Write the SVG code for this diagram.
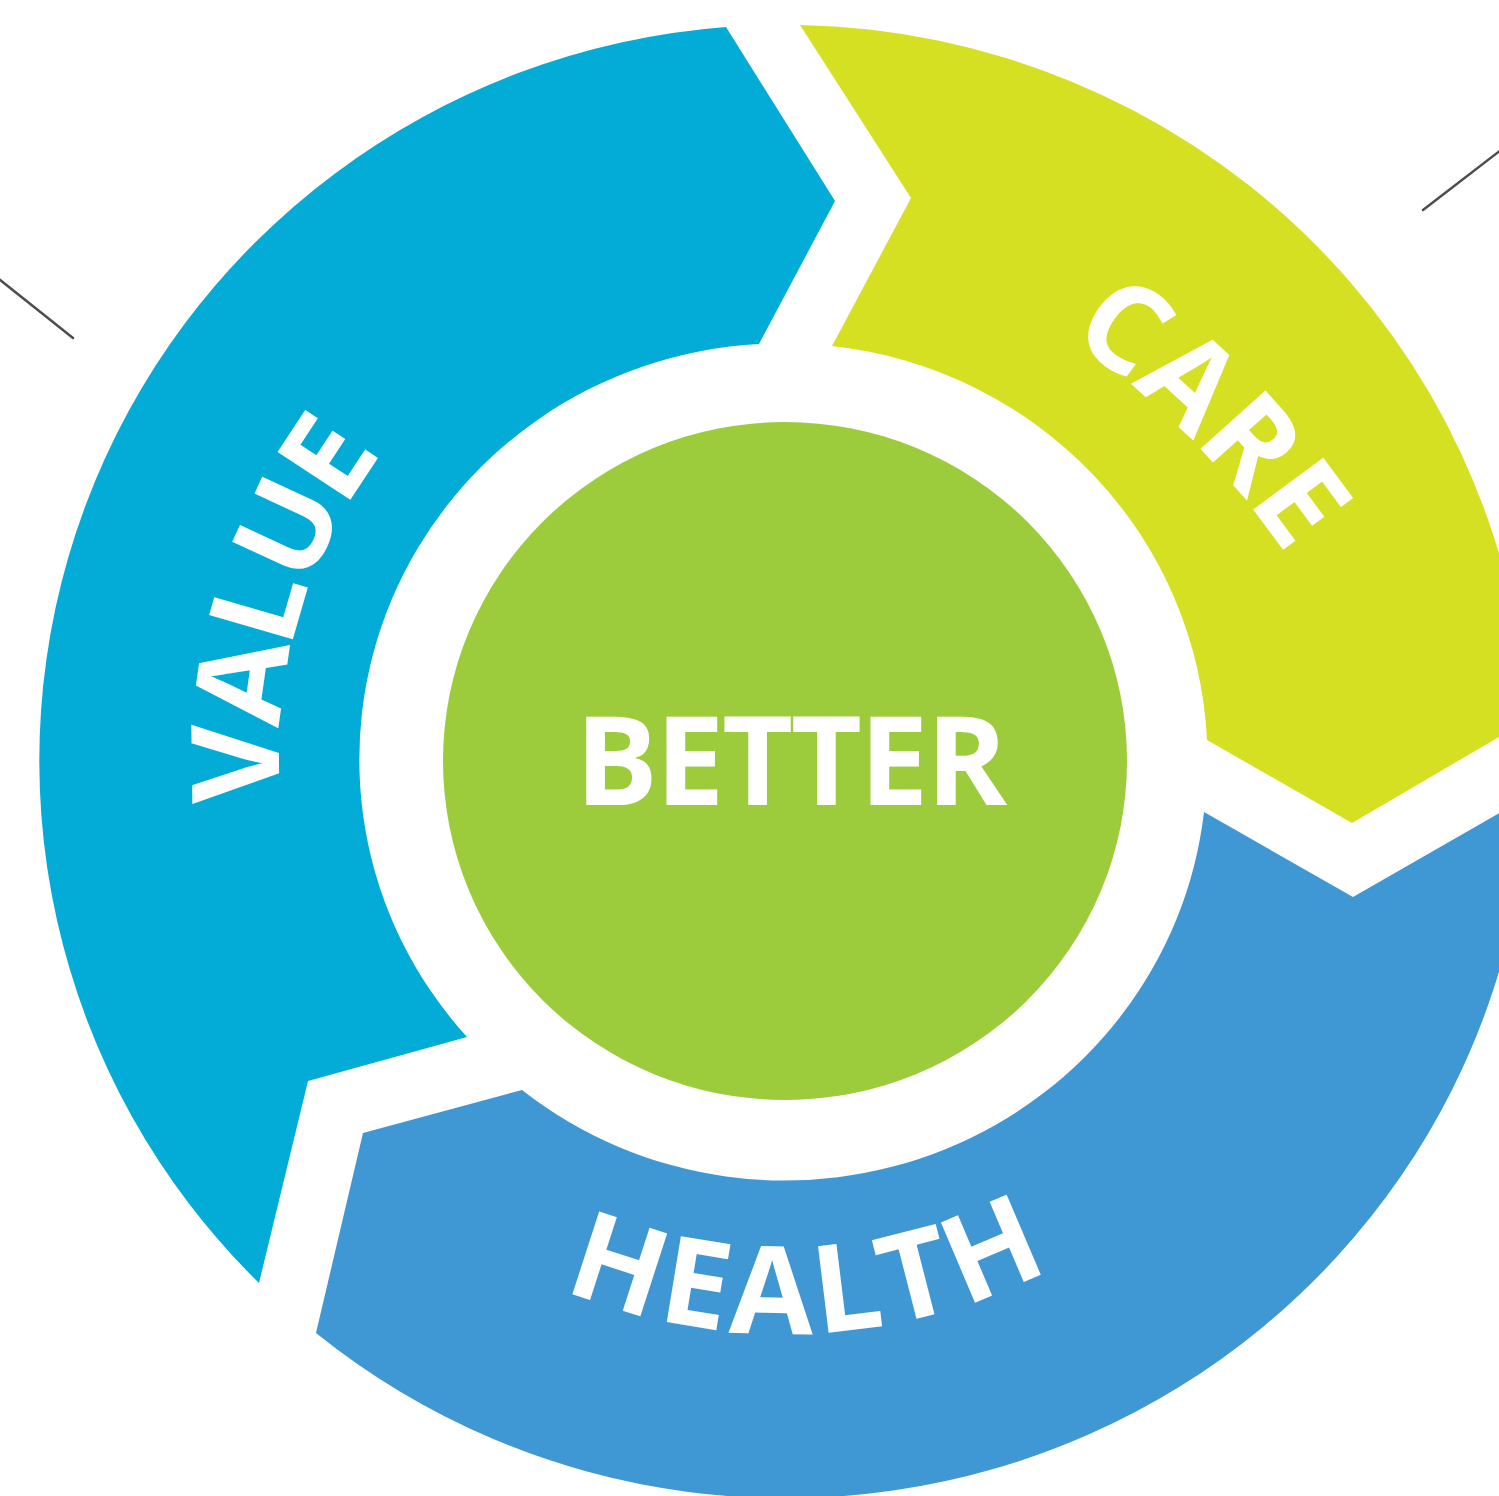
<svg xmlns="http://www.w3.org/2000/svg" xmlns:xlink="http://www.w3.org/1999/xlink" width="1499" height="1496" viewBox="0 0 1499 1496">
<style>
.lbl{font-family:"Open Sans","Liberation Sans",sans-serif;font-weight:700;fill:#ffffff;}
.conn{stroke:#4d4d4d;stroke-width:2.5;fill:none;stroke-linecap:round;}
</style>
<defs>
<path id="pValue" d="M343.3,1004.8 A502,502 0 0 1 540.2,318.3"/>
<path id="pCare" d="M825.9,230.0 A800,800 0 0 1 1396.9,797.2"/>
<path id="pHealth" d="M398.4,1183.9 A574,574 0 0 0 1208.7,1147.2"/>
</defs>
<rect width="1499" height="1496" fill="#ffffff"/>
<g id="connectors">
<line class="conn" x1="-10" y1="272" x2="73" y2="338"/>
<line class="conn" x1="1423" y1="210" x2="1510" y2="143"/>
</g>
<g id="value">
<path fill="#02acd6" d="M726,27 L835,201 L759,344 A422,416 0 0 0 467,1037 L308,1081 L259,1283 A744,736 0 0 1 726,27 Z"/>
<text class="lbl" font-size="122" letter-spacing="-5"><textPath xlink:href="#pValue" href="#pValue" startOffset="50%" text-anchor="middle">VALUE</textPath></text>
</g>
<g id="care">
<path fill="#d6e023" d="M800,25 A744,736 0 0 1 1528,720 L1352,823 L1207,740 A422,416 0 0 0 832,346 L911,198 Z"/>
<text class="lbl" font-size="122"><textPath xlink:href="#pCare" href="#pCare" startOffset="50%" text-anchor="middle">CARE</textPath></text>
</g>
<g id="health">
<path fill="#3f97d3" d="M1204,812 L1353,897 L1529,796 A744,736 0 0 1 316,1333 L363,1133 L522,1090 A422,416 0 0 0 1204,812 Z"/>
<text class="lbl" font-size="122" letter-spacing="5"><textPath xlink:href="#pHealth" href="#pHealth" startOffset="50%" text-anchor="middle">HEALTH</textPath></text>
</g>
<g id="better">
<ellipse cx="785" cy="761" rx="342" ry="339" fill="#9ccb3b"/>
<text class="lbl" x="790" y="805" font-size="123" letter-spacing="-2.4" text-anchor="middle">BETTER</text>
</g>
</svg>
